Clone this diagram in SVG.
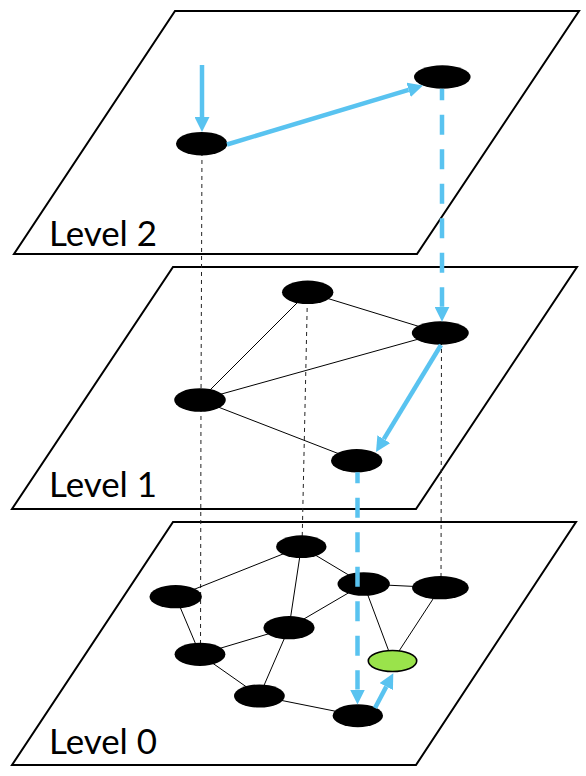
<svg xmlns="http://www.w3.org/2000/svg" width="586" height="776" viewBox="0 0 586 776">
<style>
.plane{fill:#ffffff;stroke:#000;stroke-width:2;stroke-linejoin:miter}
.lbl{font-family:Lato,"Liberation Sans",Arial,sans-serif;font-size:34px;fill:#000}
.node{fill:#000}
.goal{fill:#9AE34B;stroke:#000;stroke-width:1.6}
.edge{stroke:#000;stroke-width:1;fill:none}
.link{stroke:#222;stroke-width:1;stroke-dasharray:4 4;fill:none}
.arr{stroke:#59C3F0;stroke-width:4.5;fill:none;marker-end:url(#head)}
.darr{stroke:#59C3F0;stroke-width:4.5;fill:none;stroke-dasharray:20 14.5;marker-end:url(#head)}
</style>
<defs>
<marker id="head" viewBox="0 0 15 15" refX="0" refY="7.5" markerWidth="15" markerHeight="15" markerUnits="userSpaceOnUse" orient="auto">
<path d="M0,0 L15,7.5 L0,15 Z" fill="#59C3F0"/>
</marker>
</defs>

<g id="plane-2">
<polygon class="plane" points="175,11 579,11 417,254 14,254"/>
<text class="lbl" x="49" y="246" textLength="108" lengthAdjust="spacingAndGlyphs">Level 2</text>
</g>
<g id="plane-1">
<polygon class="plane" points="173,267 577,267 416,509 12,509"/>
<text class="lbl" x="49" y="497" textLength="108" lengthAdjust="spacingAndGlyphs">Level 1</text>
</g>
<g id="plane-0">
<polygon class="plane" points="173,522 576,522 416,765 12,765"/>
<text class="lbl" x="49" y="754" textLength="108" lengthAdjust="spacingAndGlyphs">Level 0</text>
</g>

<g id="connectors">
<line class="link" x1="202" y1="144" x2="201" y2="400"/>
<line class="link" x1="201" y1="400" x2="200.5" y2="654"/>
<line class="link" x1="307.5" y1="292" x2="302" y2="547"/>
<line class="link" x1="441.5" y1="333" x2="441" y2="588"/>
<line class="edge" x1="307.7" y1="292.3" x2="440.3" y2="333"/>
<line class="edge" x1="307.7" y1="292.3" x2="200" y2="400"/>
<line class="edge" x1="200" y1="400" x2="440.3" y2="333"/>
<line class="edge" x1="200" y1="400" x2="356.7" y2="460.7"/>
<line class="edge" x1="301.3" y1="546.7" x2="175.7" y2="596.7"/>
<line class="edge" x1="301.3" y1="546.7" x2="363.7" y2="584"/>
<line class="edge" x1="301.3" y1="546.7" x2="289" y2="627.7"/>
<line class="edge" x1="175.7" y1="596.7" x2="200" y2="654.3"/>
<line class="edge" x1="363.7" y1="584" x2="289" y2="627.7"/>
<line class="edge" x1="363.7" y1="584" x2="440.4" y2="587.7"/>
<line class="edge" x1="363.7" y1="584" x2="392.5" y2="661"/>
<line class="edge" x1="440.4" y1="587.7" x2="392.5" y2="661"/>
<line class="edge" x1="289" y1="627.7" x2="200" y2="654.3"/>
<line class="edge" x1="289" y1="627.7" x2="259.4" y2="696"/>
<line class="edge" x1="200" y1="654.3" x2="259.4" y2="696"/>
<line class="edge" x1="259.4" y1="696" x2="357.8" y2="715.7"/>
</g>

<g id="l2-a"><ellipse class="node" cx="201.7" cy="143.7" rx="25.7" ry="11.8"/></g>
<g id="l2-b"><ellipse class="node" cx="442.3" cy="77" rx="28.3" ry="11.7"/></g>

<g id="l1-a"><ellipse class="node" cx="307.7" cy="292.3" rx="25.7" ry="11.8"/></g>
<g id="l1-b"><ellipse class="node" cx="440.3" cy="333" rx="28.5" ry="11.7"/></g>
<g id="l1-c"><ellipse class="node" cx="200" cy="400" rx="25.8" ry="11.8"/></g>
<g id="l1-d"><ellipse class="node" cx="356.7" cy="460.7" rx="25.7" ry="11.7"/></g>

<g id="l0-a"><ellipse class="node" cx="301.3" cy="546.7" rx="25.2" ry="11.4"/></g>
<g id="l0-b"><ellipse class="node" cx="175.7" cy="596.7" rx="26.2" ry="11.6"/></g>
<g id="l0-c"><ellipse class="node" cx="363.7" cy="584" rx="26.2" ry="11.8"/></g>
<g id="l0-d"><ellipse class="node" cx="440.4" cy="587.7" rx="28.4" ry="11.6"/></g>
<g id="l0-e"><ellipse class="node" cx="289" cy="627.7" rx="25.6" ry="11.6"/></g>
<g id="l0-f"><ellipse class="node" cx="200" cy="654.3" rx="25.4" ry="11.6"/></g>
<g id="l0-g"><ellipse class="node" cx="259.4" cy="696" rx="25.4" ry="11.6"/></g>
<g id="l0-h"><ellipse class="node" cx="357.8" cy="715.7" rx="25.2" ry="11.5"/></g>
<g id="l0-goal"><ellipse class="goal" cx="392.5" cy="661" rx="24.2" ry="10.5"/></g>

<g id="search-path">
<line class="arr" x1="202" y1="65" x2="202" y2="117"/>
<line class="arr" x1="227" y1="144.5" x2="408.6" y2="89.8"/>
<line class="darr" stroke-dashoffset="8.4" x1="442" y1="88.7" x2="442" y2="306.7"/>
<line class="arr" x1="441" y1="345" x2="383.8" y2="439.2"/>
<line class="darr" stroke-dashoffset="9" x1="357.5" y1="472.3" x2="357.5" y2="689.5"/>
<line class="arr" x1="375" y1="708" x2="386.3" y2="686.6"/>
</g>
</svg>
